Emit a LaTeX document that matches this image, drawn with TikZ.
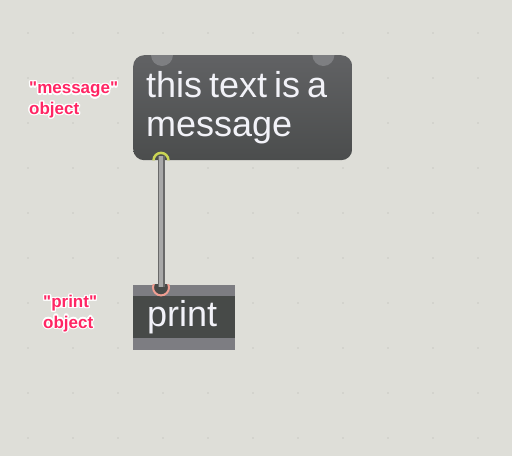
\documentclass[tikz,border=0pt]{standalone}
\usepackage{fontspec}
\setmainfont[Ligatures=TeXOff]{Liberation Sans}
\usepackage{contour}
\usetikzlibrary{positioning}
\contourlength{1.3pt}
\definecolor{patchbg}{RGB}{222,222,216}
\definecolor{griddot}{RGB}{178,178,172}
\definecolor{msgtop}{RGB}{97,98,100}
\definecolor{msgbot}{RGB}{75,77,77}
\definecolor{inletgray}{RGB}{126,127,130}
\definecolor{printdark}{RGB}{71,74,72}
\definecolor{printband}{RGB}{125,125,130}
\definecolor{boxtext}{RGB}{242,242,248}
\definecolor{labelpink}{RGB}{255,38,100}
\definecolor{outletyellow}{RGB}{202,212,84}
\definecolor{inletsalmon}{RGB}{240,158,146}
\definecolor{corddark}{RGB}{105,105,105}
\definecolor{cordlight}{RGB}{168,168,168}
\newcommand{\halo}[1]{\contour{white}{#1}}

\begin{document}
\begin{tikzpicture}[x=1pt, y=-1pt,
  msgbox/.style = {rectangle, rounded corners=11pt, top color=msgtop, bottom color=msgbot, text=boxtext,
    minimum width=219pt, minimum height=105pt, inner xsep=13pt, text width=193pt, align=left,
    font=\fontsize{36}{39}\selectfont},
  printbox/.style = {rectangle, fill=printdark, text=boxtext, minimum width=102pt, minimum height=65pt,
    inner xsep=14pt, text width=74pt, align=left, font=\fontsize{36}{39}\selectfont,
    path picture={
      \fill[printband] (path picture bounding box.north west) rectangle ([yshift=-11pt]path picture bounding box.north east);
      \fill[printband] ([yshift=12pt]path picture bounding box.south west) rectangle (path picture bounding box.south east);}},
  objlabel/.style = {align=left, inner sep=0pt, text=labelpink, font=\bfseries\fontsize{17}{20.5}\selectfont},
  cord/.style = {draw=corddark, line width=1.5pt, double=cordlight, double distance=4pt}]
  % background
  \fill[patchbg] (0,0) rectangle (512,456);
  \useasboundingbox (0,0) rectangle (512,456);
  \foreach \gx in {28,73,...,478}
    \foreach \gy in {33,78,...,438}
      \fill[griddot] (\gx,\gy) circle (0.7pt);

  % nodes
  \node[msgbox, anchor=north west] (msg) at (133,55) {\spaceskip=7pt\relax\mbox{this text is a}\\\mbox{message}};
  \node[printbox, below=124pt of msg.south west, anchor=north west] (print) {print};

  \node[objlabel, anchor=north west] (msglabel) at (29,82) {\halo{"message"}\\\halo{object}};
  \node[objlabel, anchor=north west] (printlabel) at (43,295) {\halo{"print"}\\\halo{object}};

  % ports
  \coordinate (msg-inl) at ([xshift=29pt]msg.north west);
  \coordinate (msg-inr) at ([xshift=-29pt]msg.north east);
  \coordinate (msg-out) at ([xshift=28pt]msg.south west);
  \coordinate (print-in) at ([xshift=28pt, yshift=-3pt]print.north west);
  \begin{scope}
    \clip[rounded corners=11pt] (msg.north west) rectangle (msg.south east);
    \fill[inletgray] (msg-inl) circle (11pt);
    \fill[inletgray] (msg-inr) circle (11pt);
    \draw[outletyellow, line width=2.5pt] (msg-out) circle (7.5pt);
  \end{scope}
  \begin{scope}
    \clip (print.north west) rectangle (print.south east);
    \draw[inletsalmon, fill=printdark, line width=2pt] (print-in) circle (8pt);
  \end{scope}

  % connections
  \draw[cord, shorten <=-4pt] (msg-out) -- (print-in);
\end{tikzpicture}
\end{document}
